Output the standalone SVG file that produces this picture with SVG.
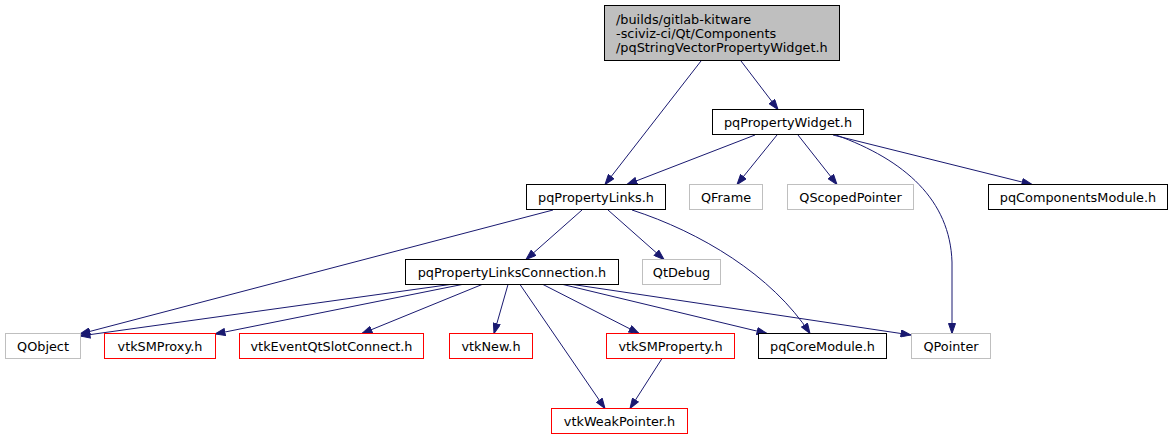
<svg xmlns="http://www.w3.org/2000/svg" width="1174" height="440" viewBox="0 0 1174 440">
<style>
text{font-family:"DejaVu Sans","Liberation Sans",sans-serif;font-size:12.85px;fill:#000}
.c{text-anchor:middle}
.n rect{fill:#fff;stroke-width:1}
.blk rect{stroke:#000}
.gry rect{stroke:#bfbfbf}
.red rect{stroke:#ff0000}
#edges path{fill:none;stroke:#191970;stroke-width:1;marker-end:url(#ah)}
</style>
<defs>
<marker id="ah" markerUnits="userSpaceOnUse" markerWidth="11" markerHeight="8" refX="10" refY="3.5" orient="auto" viewBox="-0.5 -0.5 11 8">
<path d="M0,0 L10,3.5 L0,7 z" fill="#191970" stroke="#191970" stroke-width="1"/>
</marker>
</defs>
<rect width="1174" height="440" fill="#fff"/>
<g id="edges">
<path d="M701,61 L605,184.5"/>
<path d="M741,61 L778,109.5"/>
<path d="M755,135 L627,184.5"/>
<path d="M777,135 L737,184.5"/>
<path d="M798,135 L837,184.5"/>
<path d="M833,135 L1032,184.5"/>
<path d="M836,135 C905,160 950,200 952,262 L952,333.5"/>
<path d="M582,210 L526,259.5"/>
<path d="M608,210 L664,259.5"/>
<path d="M553,210 L80,334"/>
<path d="M632,210 C700,232 772,275 810,333.5"/>
<path d="M450,284.5 L80,336"/>
<path d="M462,284.5 L215,334"/>
<path d="M482,284.5 L362,333.5"/>
<path d="M508,284.5 L494,333.5"/>
<path d="M520,284.5 L605,408.5"/>
<path d="M543,284.5 L639,333.5"/>
<path d="M563,284.5 L767,333.5"/>
<path d="M573,284.5 L911,335"/>
<path d="M662,358.5 L630,408.5"/>
</g>
<g id="root" class="n blk">
<rect x="604.5" y="5.5" width="235" height="55" style="fill:#bfbfbf"/>
<text x="616" y="23.5">/builds/gitlab-kitware</text>
<text x="616" y="37.5">-sciviz-ci/Qt/Components</text>
<text x="616" y="51.5">/pqStringVectorPropertyWidget.h</text>
</g>
<g id="pqPropertyWidget" class="n blk"><rect x="712.5" y="109.5" width="151" height="25"/><text class="c" x="788" y="126.5">pqPropertyWidget.h</text></g>
<g id="pqPropertyLinks" class="n blk"><rect x="526.5" y="184.5" width="139" height="25"/><text class="c" x="596" y="201.5">pqPropertyLinks.h</text></g>
<g id="QFrame" class="n gry"><rect x="689.5" y="184.5" width="73" height="25"/><text class="c" x="726" y="201.5">QFrame</text></g>
<g id="QScopedPointer" class="n gry"><rect x="787.5" y="184.5" width="126" height="25"/><text class="c" x="850.5" y="201.5">QScopedPointer</text></g>
<g id="pqComponentsModule" class="n blk"><rect x="988.5" y="184.5" width="179" height="25"/><text class="c" x="1078" y="201.5">pqComponentsModule.h</text></g>
<g id="pqPropertyLinksConnection" class="n blk"><rect x="405.5" y="259.5" width="213" height="25"/><text class="c" x="512" y="276.5">pqPropertyLinksConnection.h</text></g>
<g id="QtDebug" class="n gry"><rect x="642.5" y="259.5" width="78" height="25"/><text class="c" x="681.5" y="276.5">QtDebug</text></g>
<g id="QObject" class="n gry"><rect x="5.5" y="333.5" width="75" height="25"/><text class="c" x="43" y="350.5">QObject</text></g>
<g id="vtkSMProxy" class="n red"><rect x="104.5" y="333.5" width="111" height="25"/><text class="c" x="160" y="350.5">vtkSMProxy.h</text></g>
<g id="vtkEventQtSlotConnect" class="n red"><rect x="239.5" y="333.5" width="184" height="25"/><text class="c" x="331.5" y="350.5">vtkEventQtSlotConnect.h</text></g>
<g id="vtkNew" class="n red"><rect x="449.5" y="333.5" width="83" height="25"/><text class="c" x="491" y="350.5">vtkNew.h</text></g>
<g id="vtkSMProperty" class="n red"><rect x="606.5" y="333.5" width="128" height="25"/><text class="c" x="670.5" y="350.5">vtkSMProperty.h</text></g>
<g id="pqCoreModule" class="n blk"><rect x="758.5" y="333.5" width="128" height="25"/><text class="c" x="822.5" y="350.5">pqCoreModule.h</text></g>
<g id="QPointer" class="n gry"><rect x="911.5" y="333.5" width="79" height="25"/><text class="c" x="951" y="350.5">QPointer</text></g>
<g id="vtkWeakPointer" class="n red"><rect x="551.5" y="408.5" width="136" height="25"/><text class="c" x="619.5" y="425.5">vtkWeakPointer.h</text></g>
</svg>
